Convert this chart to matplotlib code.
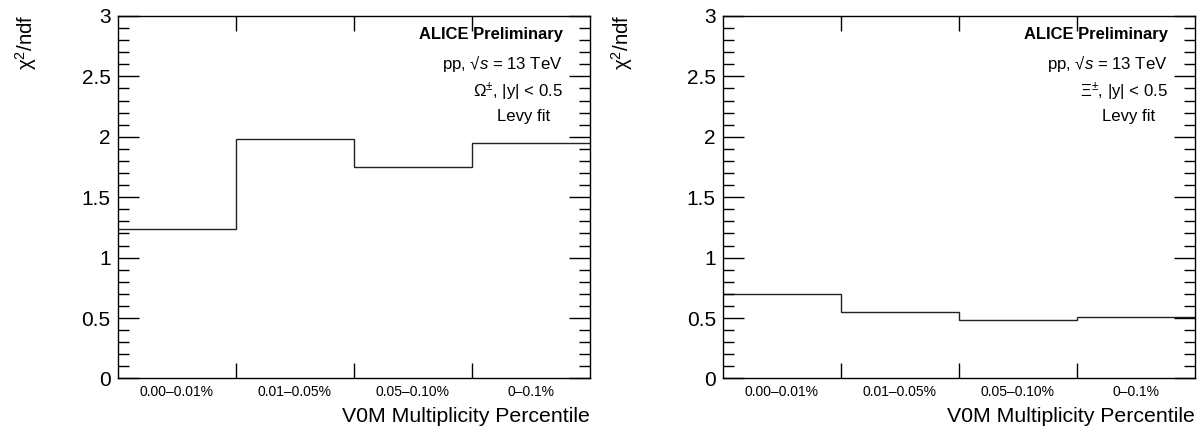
import matplotlib
matplotlib.use("Agg")
import matplotlib.pyplot as plt
from matplotlib.ticker import MultipleLocator, FixedLocator
import numpy as np

plt.rcParams["font.family"] = ["Liberation Sans", "DejaVu Sans"]
plt.rcParams["mathtext.fontset"] = "custom"
plt.rcParams["mathtext.rm"] = "Liberation Sans"
plt.rcParams["mathtext.it"] = "Liberation Sans:italic"
plt.rcParams["mathtext.bf"] = "Liberation Sans:bold"

# Multiplicity classes (V0M percentile) and fit quality per class
categories = ["0.00–0.01%", "0.01–0.05%", "0.05–0.10%", "0–0.1%"]
chi2_omega = [1.235, 1.985, 1.748, 1.948]
chi2_xi = [0.70, 0.548, 0.482, 0.510]

particle_labels = ["Ω$^{\\pm}$, |y| < 0.5", "Ξ$^{\\pm}$, |y| < 0.5"]

fig = plt.figure(figsize=(12.03, 4.34), dpi=100)
ax_l = fig.add_axes([0.0978, 0.1279, 0.3924, 0.8353])
ax_r = fig.add_axes([0.6008, 0.1279, 0.3924, 0.8353])

edges = np.arange(len(categories) + 1)
centers = edges[:-1] + 0.5

for ax, vals, plab, ylab_x in [(ax_l, chi2_omega, particle_labels[0], -0.194),
                               (ax_r, chi2_xi, particle_labels[1], -0.2135)]:
    ax.stairs(vals, edges, color="#222222", linewidth=1.0, baseline=None)
    ax.set_xlim(edges[0], edges[-1])
    ax.set_ylim(0, 3)

    # y axis: major every 0.5, minor every 0.1, ticks inside on both sides
    ax.yaxis.set_major_locator(MultipleLocator(0.5))
    ax.yaxis.set_minor_locator(MultipleLocator(0.1))
    ax.set_yticks([0, 0.5, 1, 1.5, 2, 2.5, 3])
    ax.set_yticklabels(["0", "0.5", "1", "1.5", "2", "2.5", "3"])
    ax.tick_params(axis="y", which="major", direction="in", length=15, width=1,
                   left=True, right=True, labelsize=15, pad=5)
    ax.tick_params(axis="y", which="minor", direction="in", length=8, width=1,
                   left=True, right=True)

    # x axis: ticks at bin edges, labels at bin centres
    ax.xaxis.set_major_locator(FixedLocator(edges[1:-1]))
    ax.xaxis.set_major_formatter(plt.NullFormatter())
    ax.xaxis.set_minor_locator(FixedLocator(centers))
    ax.set_xticklabels(categories, minor=True)
    ax.tick_params(axis="x", which="major", direction="in", length=11, width=1,
                   bottom=True, top=True)
    ax.tick_params(axis="x", which="minor", length=0, labelsize=10, pad=5)

    for sp in ax.spines.values():
        sp.set_linewidth(1.0)

    ax.text(1.0, -0.105, "V0M Multiplicity Percentile", transform=ax.transAxes,
            ha="right", va="center", fontsize=15.3)
    ax.text(ylab_x, 1.005, "χ$^{2}$/ndf", transform=ax.transAxes,
            ha="center", va="top", rotation=90, fontsize=14.8)

    ax.text(0.943, 0.948, "ALICE Preliminary", transform=ax.transAxes,
            ha="right", va="center", fontsize=11.9, fontweight="bold")
    ax.text(0.943, 0.869, "pp, √$\\it{s}$ = 13 TeV", transform=ax.transAxes,
            ha="right", va="center", fontsize=12.1)
    ax.text(0.943, 0.791, plab, transform=ax.transAxes,
            ha="right", va="center", fontsize=12.1)
    ax.text(0.916, 0.723, "Levy fit", transform=ax.transAxes,
            ha="right", va="center", fontsize=12.1)

fig.savefig("out.png", dpi=100)
